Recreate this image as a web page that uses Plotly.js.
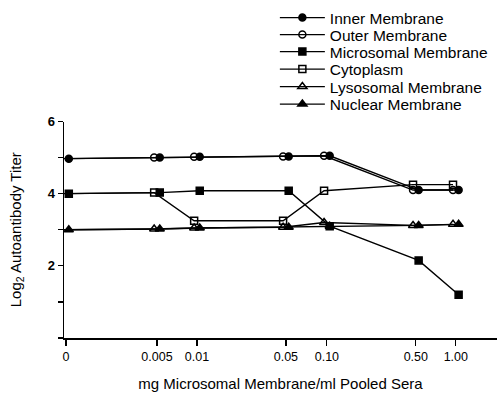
<!DOCTYPE html>
<html><head><meta charset="utf-8">
<script src="https://cdn.plot.ly/plotly-3.0.1.min.js"></script>
<style>html,body{margin:0;padding:0;background:#fff}#chart{width:498px;height:400px}</style>
</head><body><div id="chart"></div>
<script>
// Dose labels (categories) and their positions along the hand-spaced axis
const doseLabels = ['0', '0.005', '0.01', '0.05', '0.10', '0.50', '1.00'];
const dosePos = [0, 2.275, 3.275, 5.5, 6.525, 8.75, 9.75];

// Log2 autoantibody titer per fraction
const innerMembrane      = [4.97, 5.0, 5.02, 5.03, 5.05, 4.1, 4.1];
const outerMembrane      = [4.97, 5.0, 5.02, 5.03, 5.05, 4.1, 4.1];
const microsomalMembrane = [4.0, 4.03, 4.08, 4.08, 3.1, 2.15, 1.2];
const cytoplasm          = [4.0, 4.03, 3.25, 3.25, 4.08, 4.25, 4.25];
const lysosomalMembrane  = [3.0, 3.02, 3.05, 3.07, 3.2, 3.12, 3.15];
const nuclearMembrane    = [3.0, 3.02, 3.05, 3.07, 3.1, 3.12, 3.15];

// y tick labels (labelled majors) and unlabelled minor ticks
const yTickVals = [2, 4, 6];
const yTickText = ['<b>2</b>', '<b>4</b>', '<b>6</b>'];

const seriesNames = ['Inner Membrane', 'Outer Membrane', 'Microsomal Membrane', 'Cytoplasm', 'Lysosomal Membrane', 'Nuclear Membrane'];
const seriesData = [innerMembrane, outerMembrane, microsomalMembrane, cytoplasm, lysosomalMembrane, nuclearMembrane];
const symbols = ['circle', 'circle-open', 'square', 'square-open', 'triangle-up-open', 'triangle-up'];
const sizes = [7, 7, 7, 7, 8, 8];
// small side-by-side shift so overlapping open/filled markers both show
const shift = [0.07, -0.07, 0.07, -0.07, -0.07, 0.07];
// legend rows (one legend per entry so rows can sit as tightly as in the original)
const legendIds = ['legend', 'legend2', 'legend3', 'legend4', 'legend5', 'legend6'];
const legendRowY = [18, 35, 52, 69.5, 87, 104.5];

const font = "'Liberation Sans', Arial, Helvetica, sans-serif";

const traces = seriesNames.map((name, i) => ({
  type: 'scatter', mode: 'lines+markers', name: name,
  legend: legendIds[i],
  x: dosePos.map(p => p + shift[i]),
  y: seriesData[i],
  line: {color: '#000', width: 1.4},
  marker: {symbol: symbols[i], size: sizes[i], color: '#000', line: {color: '#000', width: 1.5}},
  cliponaxis: false
}));
// draw filled markers above open ones
const order = [1, 3, 4, 0, 2, 5];
const ordered = order.map(i => traces[i]);

const layout = {
  width: 498, height: 400,
  margin: {l: 64, r: 1, t: 117, b: 62},
  paper_bgcolor: '#fff', plot_bgcolor: '#fff',
  font: {family: font, color: '#000', size: 13},
  showlegend: true,
  xaxis: {
    range: [-0.05, 10.78], showgrid: false, zeroline: false,
    showline: true, linecolor: '#000', linewidth: 1.5,
    tickmode: 'array', tickvals: dosePos, ticktext: doseLabels,
    ticks: 'outside', ticklen: 6, tickwidth: 1.2, tickcolor: '#000',
    tickfont: {size: 12.5, family: font, color: '#000'},
    title: {text: 'mg Microsomal Membrane/ml Pooled Sera', font: {size: 15, family: font, color: '#000'}, standoff: 16}
  },
  yaxis: {
    range: [0, 6], showgrid: false, zeroline: false,
    showline: true, linecolor: '#000', linewidth: 1.5,
    tickmode: 'array', tickvals: yTickVals, ticktext: yTickText,
    ticks: 'outside', ticklen: 5, tickwidth: 1.2, tickcolor: '#000',
    minor: {dtick: 1, tick0: 0, ticks: 'outside', ticklen: 5, tickwidth: 1.2, tickcolor: '#000', showgrid: false},
    tickfont: {size: 13, family: font, color: '#000'},
    title: {text: 'Log<sub>2</sub> Autoantibody Titer', font: {size: 15, family: font, color: '#000'}, standoff: 22}
  }
};
legendIds.forEach((id, i) => {
  layout[id] = {
    x: 0.487, xanchor: 'left', xref: 'paper',
    y: 1 - legendRowY[i] / 400, yanchor: 'middle', yref: 'container',
    bgcolor: 'rgba(0,0,0,0)', borderwidth: 0,
    font: {size: 15.5, family: font, color: '#000'},
    itemwidth: 45, tracegroupgap: 0
  };
});
Plotly.newPlot('chart', ordered, layout, {displayModeBar: false, staticPlot: true});
</script></body></html>
